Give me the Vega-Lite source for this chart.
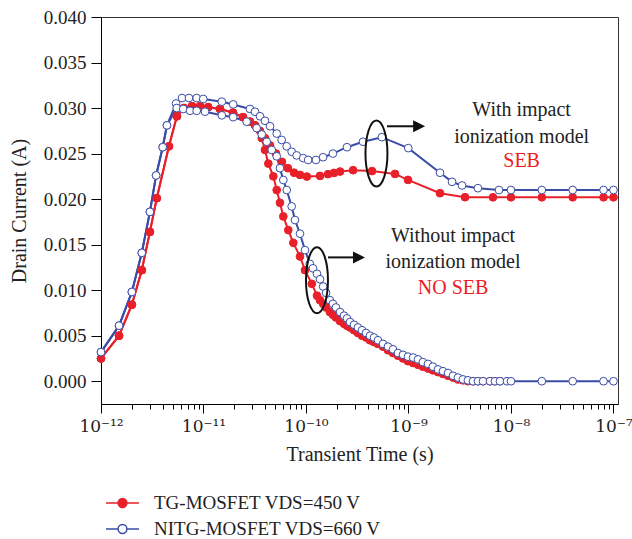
{
"$schema":"https://vega.github.io/schema/vega-lite/v6.json",
"width":517,"height":387,
"autosize":{"type":"none"},
"padding":{"left":101,"top":17,"right":14,"bottom":135},
"background":"white",
"config":{"font":"Liberation Serif","view":{"stroke":"#333","strokeWidth":1},
"axis":{"domainColor":"#000","tickColor":"#000","labelColor":"#222","titleColor":"#222","labelFont":"Liberation Serif","titleFont":"Liberation Serif","labelFontSize":19,"titleFontSize":20,"titleFontWeight":"normal","grid":false}},
"layer":[
{"data":{"name":"curves","values":[
{"s":"TGw","d":"TG","t":1e-12,"v":0.0025},{"s":"TGw","d":"TG","t":1.5e-12,"v":0.005},{"s":"TGw","d":"TG","t":2e-12,"v":0.0084},{"s":"TGw","d":"TG","t":2.5e-12,"v":0.0122},{"s":"TGw","d":"TG","t":3e-12,"v":0.0164},{"s":"TGw","d":"TG","t":3.5e-12,"v":0.0201},{"s":"TGw","d":"TG","t":4.6e-12,"v":0.0258},{"s":"TGw","d":"TG","t":5.5e-12,"v":0.0291},{"s":"TGw","d":"TG","t":6.45e-12,"v":0.03},{"s":"TGw","d":"TG","t":7.73e-12,"v":0.0302},{"s":"TGw","d":"TG","t":9.25e-12,"v":0.0302},{"s":"TGw","d":"TG","t":1.11e-11,"v":0.0301},{"s":"TGw","d":"TG","t":1.45e-11,"v":0.0299},{"s":"TGw","d":"TG","t":1.94e-11,"v":0.0295},{"s":"TGw","d":"TG","t":2.43e-11,"v":0.029},{"s":"TGw","d":"TG","t":2.84e-11,"v":0.0285},{"s":"TGw","d":"TG","t":3.18e-11,"v":0.0281},
{"s":"TGw","d":"TG","t":3.56e-11,"v":0.0275},{"s":"TGw","d":"TG","t":3.98e-11,"v":0.0267},{"s":"TGw","d":"TG","t":4.46e-11,"v":0.0259},{"s":"TGw","d":"TG","t":5.1e-11,"v":0.025},{"s":"TGw","d":"TG","t":5.83e-11,"v":0.0241},{"s":"TGw","d":"TG","t":6.67e-11,"v":0.0234},{"s":"TGw","d":"TG","t":7.64e-11,"v":0.0229},{"s":"TGw","d":"TG","t":8.74e-11,"v":0.02266},{"s":"TGw","d":"TG","t":1.02e-10,"v":0.02248},{"s":"TGw","d":"TG","t":1.37e-10,"v":0.02255},{"s":"TGw","d":"TG","t":1.64e-10,"v":0.02274},{"s":"TGw","d":"TG","t":1.88e-10,"v":0.02288},{"s":"TGw","d":"TG","t":2.15e-10,"v":0.02303},{"s":"TGw","d":"TG","t":2.88e-10,"v":0.02318},{"s":"TGw","d":"TG","t":4.41e-10,"v":0.02308},{"s":"TGw","d":"TG","t":7.39e-10,"v":0.02277},{"s":"TGw","d":"TG","t":9.89e-10,"v":0.02211},{"s":"TGw","d":"TG","t":2.03e-9,"v":0.02065},{"s":"TGw","d":"TG","t":3.56e-9,"v":0.02021},{"s":"TGw","d":"TG","t":6.67e-9,"v":0.0202},{"s":"TGw","d":"TG","t":1e-8,"v":0.0202},{"s":"TGw","d":"TG","t":2e-8,"v":0.0202},{"s":"TGw","d":"TG","t":4e-8,"v":0.0202},{"s":"TGw","d":"TG","t":8e-8,"v":0.0202},{"s":"TGw","d":"TG","t":1e-7,"v":0.0202},
{"s":"TGo","d":"TG","t":1e-12,"v":0.0025},{"s":"TGo","d":"TG","t":1.5e-12,"v":0.005},{"s":"TGo","d":"TG","t":2e-12,"v":0.0084},{"s":"TGo","d":"TG","t":2.5e-12,"v":0.0122},{"s":"TGo","d":"TG","t":3e-12,"v":0.0164},{"s":"TGo","d":"TG","t":3.5e-12,"v":0.0201},{"s":"TGo","d":"TG","t":4.6e-12,"v":0.0258},{"s":"TGo","d":"TG","t":5.5e-12,"v":0.0291},{"s":"TGo","d":"TG","t":6.45e-12,"v":0.03},{"s":"TGo","d":"TG","t":7.73e-12,"v":0.0302},{"s":"TGo","d":"TG","t":9.25e-12,"v":0.0302},{"s":"TGo","d":"TG","t":1.11e-11,"v":0.0301},{"s":"TGo","d":"TG","t":1.45e-11,"v":0.0299},{"s":"TGo","d":"TG","t":1.94e-11,"v":0.0295},{"s":"TGo","d":"TG","t":2.43e-11,"v":0.029},{"s":"TGo","d":"TG","t":2.84e-11,"v":0.0285},{"s":"TGo","d":"TG","t":3.18e-11,"v":0.0281},
{"s":"TGo","d":"TG","t":3.7e-11,"v":0.0267},{"s":"TGo","d":"TG","t":3.98e-11,"v":0.0254},{"s":"TGo","d":"TG","t":4.29e-11,"v":0.0239},{"s":"TGo","d":"TG","t":4.8e-11,"v":0.0225},{"s":"TGo","d":"TG","t":5.18e-11,"v":0.021},{"s":"TGo","d":"TG","t":5.57e-11,"v":0.0196},{"s":"TGo","d":"TG","t":6.01e-11,"v":0.0181},{"s":"TGo","d":"TG","t":6.72e-11,"v":0.0166},{"s":"TGo","d":"TG","t":7.52e-11,"v":0.0152},{"s":"TGo","d":"TG","t":8.74e-11,"v":0.0137},{"s":"TGo","d":"TG","t":9.78e-11,"v":0.0122},{"s":"TGo","d":"TG","t":1.14e-10,"v":0.0107},{"s":"TGo","d":"TG","t":1.28e-10,"v":0.0094},{"s":"TGo","d":"TG","t":1.37e-10,"v":0.0089},{"s":"TGo","d":"TG","t":1.47e-10,"v":0.0085},{"s":"TGo","d":"TG","t":1.57e-10,"v":0.0081},{"s":"TGo","d":"TG","t":1.71e-10,"v":0.0076},{"s":"TGo","d":"TG","t":1.83e-10,"v":0.0073},{"s":"TGo","d":"TG","t":1.96e-10,"v":0.007},{"s":"TGo","d":"TG","t":2.15e-10,"v":0.0066},{"s":"TGo","d":"TG","t":2.35e-10,"v":0.0063},{"s":"TGo","d":"TG","t":2.51e-10,"v":0.0061},{"s":"TGo","d":"TG","t":2.69e-10,"v":0.0059},{"s":"TGo","d":"TG","t":2.94e-10,"v":0.0056},{"s":"TGo","d":"TG","t":3.21e-10,"v":0.0053},{"s":"TGo","d":"TG","t":3.52e-10,"v":0.005},{"s":"TGo","d":"TG","t":3.85e-10,"v":0.0048},{"s":"TGo","d":"TG","t":4.21e-10,"v":0.0045},{"s":"TGo","d":"TG","t":4.61e-10,"v":0.0043},{"s":"TGo","d":"TG","t":5.04e-10,"v":0.0041},{"s":"TGo","d":"TG","t":5.64e-10,"v":0.0038},{"s":"TGo","d":"TG","t":6.31e-10,"v":0.0034},{"s":"TGo","d":"TG","t":7.06e-10,"v":0.0031},{"s":"TGo","d":"TG","t":7.9e-10,"v":0.0028},{"s":"TGo","d":"TG","t":8.84e-10,"v":0.0025},{"s":"TGo","d":"TG","t":9.89e-10,"v":0.0022},{"s":"TGo","d":"TG","t":1.11e-9,"v":0.002},{"s":"TGo","d":"TG","t":1.24e-9,"v":0.0018},{"s":"TGo","d":"TG","t":1.38e-9,"v":0.0016},{"s":"TGo","d":"TG","t":1.55e-9,"v":0.0014},{"s":"TGo","d":"TG","t":1.73e-9,"v":0.0012},{"s":"TGo","d":"TG","t":1.94e-9,"v":0.001},{"s":"TGo","d":"TG","t":2.17e-9,"v":0.0008},{"s":"TGo","d":"TG","t":2.43e-9,"v":0.0006},{"s":"TGo","d":"TG","t":2.72e-9,"v":0.0004},{"s":"TGo","d":"TG","t":3.04e-9,"v":0.0002},{"s":"TGo","d":"TG","t":3.4e-9,"v":0.0001},{"s":"TGo","d":"TG","t":3.8e-9,"v":0},{"s":"TGo","d":"TG","t":4.26e-9,"v":0},{"s":"TGo","d":"TG","t":4.76e-9,"v":0},{"s":"TGo","d":"TG","t":5.33e-9,"v":0},{"s":"TGo","d":"TG","t":6.24e-9,"v":0},{"s":"TGo","d":"TG","t":6.98e-9,"v":0},{"s":"TGo","d":"TG","t":7.81e-9,"v":0},
{"s":"Nw","d":"NITG","t":1e-12,"v":0.0032},{"s":"Nw","d":"NITG","t":1.5e-12,"v":0.0061},{"s":"Nw","d":"NITG","t":2e-12,"v":0.0098},{"s":"Nw","d":"NITG","t":2.5e-12,"v":0.0141},{"s":"Nw","d":"NITG","t":3e-12,"v":0.0186},{"s":"Nw","d":"NITG","t":3.45e-12,"v":0.0226},{"s":"Nw","d":"NITG","t":4e-12,"v":0.0257},{"s":"Nw","d":"NITG","t":4.4e-12,"v":0.0281},
{"s":"Nw","d":"NITG","t":5.4e-12,"v":0.0305},{"s":"Nw","d":"NITG","t":6.17e-12,"v":0.0311},{"s":"Nw","d":"NITG","t":7.22e-12,"v":0.0311},{"s":"Nw","d":"NITG","t":8.58e-12,"v":0.0311},{"s":"Nw","d":"NITG","t":9.95e-12,"v":0.031},{"s":"Nw","d":"NITG","t":1.51e-11,"v":0.0307},{"s":"Nw","d":"NITG","t":1.95e-11,"v":0.0304},{"s":"Nw","d":"NITG","t":2.84e-11,"v":0.0299},{"s":"Nw","d":"NITG","t":3.18e-11,"v":0.0296},{"s":"Nw","d":"NITG","t":3.56e-11,"v":0.0291},{"s":"Nw","d":"NITG","t":3.98e-11,"v":0.0286},{"s":"Nw","d":"NITG","t":4.46e-11,"v":0.028},{"s":"Nw","d":"NITG","t":5.18e-11,"v":0.0272},{"s":"Nw","d":"NITG","t":5.79e-11,"v":0.0265},{"s":"Nw","d":"NITG","t":6.48e-11,"v":0.0258},{"s":"Nw","d":"NITG","t":7.25e-11,"v":0.0252},{"s":"Nw","d":"NITG","t":8.11e-11,"v":0.0248},{"s":"Nw","d":"NITG","t":9.4e-11,"v":0.0245},{"s":"Nw","d":"NITG","t":1.05e-10,"v":0.0243},{"s":"Nw","d":"NITG","t":1.25e-10,"v":0.0243},{"s":"Nw","d":"NITG","t":1.47e-10,"v":0.0246},{"s":"Nw","d":"NITG","t":1.83e-10,"v":0.025},{"s":"Nw","d":"NITG","t":2.51e-10,"v":0.0257},{"s":"Nw","d":"NITG","t":3.6e-10,"v":0.0263},{"s":"Nw","d":"NITG","t":5.5e-10,"v":0.0268},{"s":"Nw","d":"NITG","t":9.95e-10,"v":0.0256},{"s":"Nw","d":"NITG","t":2.03e-9,"v":0.0229},{"s":"Nw","d":"NITG","t":2.66e-9,"v":0.0219},{"s":"Nw","d":"NITG","t":3.33e-9,"v":0.0215},{"s":"Nw","d":"NITG","t":4.76e-9,"v":0.0212},{"s":"Nw","d":"NITG","t":7.64e-9,"v":0.021},{"s":"Nw","d":"NITG","t":1e-8,"v":0.021},{"s":"Nw","d":"NITG","t":2e-8,"v":0.021},{"s":"Nw","d":"NITG","t":4e-8,"v":0.021},{"s":"Nw","d":"NITG","t":8e-8,"v":0.021},{"s":"Nw","d":"NITG","t":1e-7,"v":0.021},
{"s":"No","d":"NITG","t":1e-12,"v":0.0032},{"s":"No","d":"NITG","t":1.5e-12,"v":0.0061},{"s":"No","d":"NITG","t":2e-12,"v":0.0098},{"s":"No","d":"NITG","t":2.5e-12,"v":0.0141},{"s":"No","d":"NITG","t":3e-12,"v":0.0186},{"s":"No","d":"NITG","t":3.45e-12,"v":0.0226},{"s":"No","d":"NITG","t":4e-12,"v":0.0257},{"s":"No","d":"NITG","t":4.4e-12,"v":0.0281},
{"s":"No","d":"NITG","t":5.48e-12,"v":0.03},{"s":"No","d":"NITG","t":6.35e-12,"v":0.0299},{"s":"No","d":"NITG","t":7.39e-12,"v":0.0297},{"s":"No","d":"NITG","t":8.58e-12,"v":0.0297},{"s":"No","d":"NITG","t":1.035e-11,"v":0.0296},{"s":"No","d":"NITG","t":1.51e-11,"v":0.0292},{"s":"No","d":"NITG","t":1.95e-11,"v":0.029},{"s":"No","d":"NITG","t":2.64e-11,"v":0.0285},{"s":"No","d":"NITG","t":3.3e-11,"v":0.0278},{"s":"No","d":"NITG","t":3.7e-11,"v":0.0271},{"s":"No","d":"NITG","t":4.14e-11,"v":0.0263},{"s":"No","d":"NITG","t":4.63e-11,"v":0.0254},{"s":"No","d":"NITG","t":5.18e-11,"v":0.0247},{"s":"No","d":"NITG","t":5.57e-11,"v":0.0234},{"s":"No","d":"NITG","t":6.01e-11,"v":0.0221},{"s":"No","d":"NITG","t":6.49e-11,"v":0.021},{"s":"No","d":"NITG","t":7.25e-11,"v":0.0192},{"s":"No","d":"NITG","t":7.81e-11,"v":0.0177},{"s":"No","d":"NITG","t":8.74e-11,"v":0.0162},{"s":"No","d":"NITG","t":9.78e-11,"v":0.0144},{"s":"No","d":"NITG","t":1.09e-10,"v":0.0129},{"s":"No","d":"NITG","t":1.17e-10,"v":0.0124},{"s":"No","d":"NITG","t":1.28e-10,"v":0.0118},{"s":"No","d":"NITG","t":1.37e-10,"v":0.0112},{"s":"No","d":"NITG","t":1.47e-10,"v":0.0104},{"s":"No","d":"NITG","t":1.57e-10,"v":0.0097},{"s":"No","d":"NITG","t":1.71e-10,"v":0.0089},{"s":"No","d":"NITG","t":1.83e-10,"v":0.0085},{"s":"No","d":"NITG","t":1.96e-10,"v":0.0081},{"s":"No","d":"NITG","t":2.15e-10,"v":0.0076},{"s":"No","d":"NITG","t":2.35e-10,"v":0.0072},{"s":"No","d":"NITG","t":2.51e-10,"v":0.0069},{"s":"No","d":"NITG","t":2.69e-10,"v":0.0065},{"s":"No","d":"NITG","t":2.94e-10,"v":0.0062},{"s":"No","d":"NITG","t":3.21e-10,"v":0.0059},{"s":"No","d":"NITG","t":3.52e-10,"v":0.0056},{"s":"No","d":"NITG","t":3.85e-10,"v":0.0053},{"s":"No","d":"NITG","t":4.21e-10,"v":0.005},{"s":"No","d":"NITG","t":4.61e-10,"v":0.0048},{"s":"No","d":"NITG","t":5.04e-10,"v":0.0045},{"s":"No","d":"NITG","t":5.64e-10,"v":0.0041},{"s":"No","d":"NITG","t":6.31e-10,"v":0.0038},{"s":"No","d":"NITG","t":7.06e-10,"v":0.0035},{"s":"No","d":"NITG","t":7.9e-10,"v":0.0031},{"s":"No","d":"NITG","t":8.84e-10,"v":0.0029},{"s":"No","d":"NITG","t":9.89e-10,"v":0.0027},{"s":"No","d":"NITG","t":1.11e-9,"v":0.0026},{"s":"No","d":"NITG","t":1.24e-9,"v":0.0024},{"s":"No","d":"NITG","t":1.38e-9,"v":0.0021},{"s":"No","d":"NITG","t":1.55e-9,"v":0.0019},{"s":"No","d":"NITG","t":1.73e-9,"v":0.0016},{"s":"No","d":"NITG","t":1.94e-9,"v":0.0013},{"s":"No","d":"NITG","t":2.17e-9,"v":0.0011},{"s":"No","d":"NITG","t":2.43e-9,"v":0.0009},{"s":"No","d":"NITG","t":2.72e-9,"v":0.0006},{"s":"No","d":"NITG","t":3.04e-9,"v":0.0004},{"s":"No","d":"NITG","t":3.4e-9,"v":0.0002},{"s":"No","d":"NITG","t":3.8e-9,"v":0.0001},{"s":"No","d":"NITG","t":4.26e-9,"v":0},{"s":"No","d":"NITG","t":4.76e-9,"v":0},{"s":"No","d":"NITG","t":5.33e-9,"v":0},{"s":"No","d":"NITG","t":6.24e-9,"v":0},{"s":"No","d":"NITG","t":6.98e-9,"v":0},{"s":"No","d":"NITG","t":7.81e-9,"v":0},{"s":"No","d":"NITG","t":9.14e-9,"v":0},{"s":"No","d":"NITG","t":1e-8,"v":0},{"s":"No","d":"NITG","t":2e-8,"v":0},{"s":"No","d":"NITG","t":4e-8,"v":0},{"s":"No","d":"NITG","t":8e-8,"v":0},{"s":"No","d":"NITG","t":1e-7,"v":0}
]},
"layer":[
{"mark":{"type":"line","strokeWidth":2},
"encoding":{
"x":{"field":"t","type":"quantitative","scale":{"type":"log","domain":[1e-12,1.107e-7],"nice":false},
"axis":{"title":"Transient Time (s)","values":[1e-12,2e-12,3e-12,4e-12,5e-12,6e-12,7e-12,8e-12,9e-12,1e-11,2e-11,3e-11,4e-11,5e-11,6e-11,7e-11,8e-11,9e-11,1e-10,2e-10,3e-10,4e-10,5e-10,6e-10,7e-10,8e-10,9e-10,1e-9,2e-9,3e-9,4e-9,5e-9,6e-9,7e-9,8e-9,9e-9,1e-8,2e-8,3e-8,4e-8,5e-8,6e-8,7e-8,8e-8,9e-8,1e-7],
"labelExpr":"abs(log(datum.value)/LN10-round(log(datum.value)/LN10))>0.01?'':round(log(datum.value)/LN10)==-12?'10⁻¹²':round(log(datum.value)/LN10)==-11?'10⁻¹¹':round(log(datum.value)/LN10)==-10?'10⁻¹⁰':round(log(datum.value)/LN10)==-9?'10⁻⁹':round(log(datum.value)/LN10)==-8?'10⁻⁸':'10⁻⁷'",
"labelFont":"DejaVu Serif","labelFontSize":17,
"tickSize":{"condition":{"test":"abs(log(datum.value)/LN10-round(log(datum.value)/LN10))<0.01","value":9},"value":5},
"labelPadding":5,"titlePadding":10,"labelFlush":false,"labelOverlap":false}},
"y":{"field":"v","type":"quantitative","scale":{"domain":[-0.0025,0.04],"nice":false,"zero":false},
"axis":{"title":"Drain Current (A)","values":[0,0.0025,0.005,0.0075,0.01,0.0125,0.015,0.0175,0.02,0.0225,0.025,0.0275,0.03,0.0325,0.035,0.0375,0.04],
"labelExpr":"abs(datum.value*200-round(datum.value*200))>0.01?'':format(datum.value,'.3f')",
"tickSize":{"condition":{"test":"abs(datum.value*200-round(datum.value*200))<0.01","value":10},"value":6},
"labelPadding":5,"titlePadding":14,"labelOverlap":false}},
"stroke":{"field":"d","type":"nominal","scale":{"domain":["TG","NITG"],"range":["#e8202a","#3a4ca6"]},
"legend":{"title":null,"orient":"none","legendX":9.5,"legendY":474,"padding":0,"symbolType":"M-1.5,0L-0.4,0M0.4,0L1.5,0M0.4,0A0.4,0.4 0 1,1 -0.4,0A0.4,0.4 0 1,1 0.4,0Z","symbolSize":484,"symbolStrokeWidth":1.5,"labelOffset":19.5,"rowPadding":4,"labelFontSize":19,"labelFont":"Liberation Serif","labelColor":"#222","labelLimit":400,
"labelExpr":"datum.value=='TG'?'TG-MOSFET VDS=450 V':'NITG-MOSFET VDS=660 V'",
"encode":{"symbols":{"update":{"fill":{"signal":"datum.value=='TG'?'#e8202a':'white'"}}}}}},
"detail":{"field":"s"}}},
{"mark":{"type":"point","filled":true,"size":60,"strokeWidth":1,"opacity":1},
"encoding":{
"x":{"field":"t","type":"quantitative","scale":{"type":"log"}},
"y":{"field":"v","type":"quantitative"},
"stroke":{"field":"d","type":"nominal","scale":{"domain":["TG","NITG"],"range":["#e8202a","#3a4ca6"]},"legend":null},
"fill":{"field":"d","type":"nominal","scale":{"domain":["TG","NITG"],"range":["#e8202a","white"]},"legend":null}}}
]},
{"data":{"name":"ann","values":[
{"label":"With impact","t":1.27e-8,"v":0.0291,"k":"b"},
{"label":"ionization model","t":1.27e-8,"v":0.0262,"k":"b"},
{"label":"SEB","t":1.27e-8,"v":0.0235,"k":"r"},
{"label":"Without impact","t":2.72e-9,"v":0.0153,"k":"b"},
{"label":"ionization model","t":2.72e-9,"v":0.0124,"k":"b"},
{"label":"NO SEB","t":2.72e-9,"v":0.0096,"k":"r"}]},
"transform":[{"filter":"datum.k=='b'"}],
"mark":{"type":"text","font":"Liberation Serif","fontSize":20,"align":"center","baseline":"alphabetic","color":"#222"},
"encoding":{"x":{"field":"t","type":"quantitative","scale":{"type":"log"}},"y":{"field":"v","type":"quantitative"},"text":{"field":"label"}}},
{"data":{"name":"ann"},
"transform":[{"filter":"datum.k=='r'"}],
"mark":{"type":"text","font":"Liberation Serif","fontSize":20,"align":"center","baseline":"alphabetic","color":"#ed1c24"},
"encoding":{"x":{"field":"t","type":"quantitative","scale":{"type":"log"}},"y":{"field":"v","type":"quantitative"},"text":{"field":"label"}}},
{"data":{"values":[{"t":4.87e-10,"v":0.025},{"t":1.28e-10,"v":0.0111}]},
"mark":{"type":"point","shape":"M0,-1C0.184,-1 0.333,-0.552 0.333,0C0.333,0.552 0.184,1 0,1C-0.184,1 -0.333,0.552 -0.333,0C-0.333,-0.552 -0.184,-1 0,-1Z","size":4356,"filled":false,"stroke":"#111","strokeWidth":2,"opacity":1},
"encoding":{"x":{"field":"t","type":"quantitative","scale":{"type":"log"}},"y":{"field":"v","type":"quantitative"}}},
{"data":{"values":[{"t":6.17e-10,"t2":1.13e-9,"v":0.028},{"t":1.64e-10,"t2":2.95e-10,"v":0.0136}]},
"mark":{"type":"rule","stroke":"#111","strokeWidth":2},
"encoding":{"x":{"field":"t","type":"quantitative","scale":{"type":"log"}},"x2":{"field":"t2"},"y":{"field":"v","type":"quantitative"}}},
{"data":{"values":[{"t":1.27e-9,"v":0.028},{"t":3.29e-10,"v":0.0136}]},
"mark":{"type":"point","shape":"M-1,-1L1,0L-1,1Z","size":144,"filled":true,"color":"#111","opacity":1},
"encoding":{"x":{"field":"t","type":"quantitative","scale":{"type":"log"}},"y":{"field":"v","type":"quantitative"}}}
]
}
